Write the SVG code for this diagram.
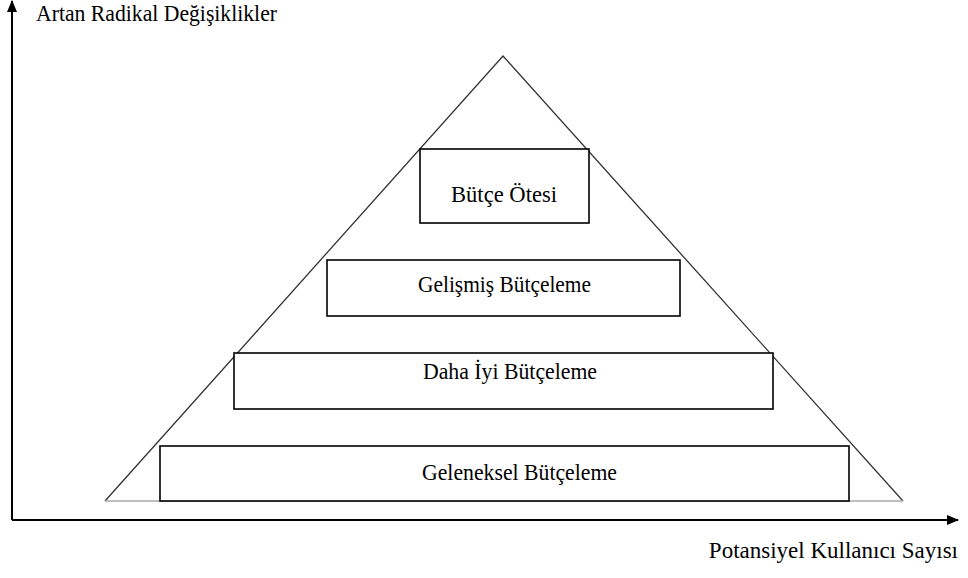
<svg xmlns="http://www.w3.org/2000/svg" width="968" height="578" viewBox="0 0 968 578">
<style>
text{font-family:"Liberation Serif","Times New Roman",serif;font-size:23px;fill:#000}
.box{fill:#fff;stroke:#000;stroke-width:1.6}
.ax{stroke:#000;stroke-width:2;fill:none}
</style>
<defs>
<marker id="ah" markerWidth="12" markerHeight="10" refX="11" refY="5" orient="auto" markerUnits="userSpaceOnUse">
<path d="M0,0 L12,5 L0,10 Z" fill="#000"/>
</marker>
</defs>
<rect width="968" height="578" fill="#fff"/>
<g id="connectors">
<line class="ax" x1="12" y1="520" x2="12" y2="1" marker-end="url(#ah)"/>
<line class="ax" x1="12" y1="520" x2="958" y2="520" marker-end="url(#ah)"/>
</g>
<g id="pyramid">
<path d="M105,501 L503,56 L903,501" fill="none" stroke="#333" stroke-width="1.3"/>
<line x1="105" y1="501" x2="903" y2="501" stroke="#aaa" stroke-width="1.5"/>
</g>
<g id="box-butce-otesi">
<rect class="box" x="420" y="149" width="169" height="74"/>
<text x="451" y="202" textLength="106" lengthAdjust="spacingAndGlyphs">Bütçe Ötesi</text>
</g>
<g id="box-gelismis">
<rect class="box" x="327" y="260" width="353" height="56"/>
<text x="418" y="292" textLength="173" lengthAdjust="spacingAndGlyphs">Gelişmiş Bütçeleme</text>
</g>
<g id="box-daha-iyi">
<rect class="box" x="234" y="353" width="539" height="56"/>
<text x="423" y="379" textLength="174" lengthAdjust="spacingAndGlyphs">Daha İyi Bütçeleme</text>
</g>
<g id="box-geleneksel">
<rect class="box" x="160" y="446" width="689" height="55"/>
<text x="422" y="480" textLength="195" lengthAdjust="spacingAndGlyphs">Geleneksel Bütçeleme</text>
</g>
<g id="axis-labels">
<text x="36" y="21" textLength="241" lengthAdjust="spacingAndGlyphs">Artan Radikal Değişiklikler</text>
<text x="958" y="558" font-size="18.5" text-anchor="end">Potansiyel Kullanıcı Sayısı</text>
</g>
</svg>
